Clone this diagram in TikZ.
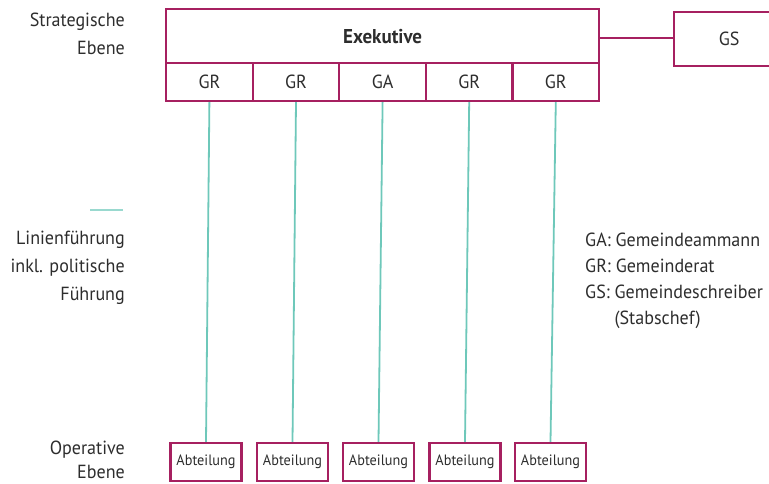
\documentclass[tikz,border=0pt]{standalone}
\usepackage{fontspec}
\setmainfont[FakeStretch=0.95]{PT Sans}
\begin{document}
\begin{tikzpicture}[x=1pt,y=-1pt,
  font=\fontsize{19}{27}\selectfont,
  frame/.style={draw=boxmag,line width=2.2pt},
  cellbox/.style={frame,minimum width=86.6pt,minimum height=38pt,inner sep=0pt,anchor=north west},
  deptbox/.style={frame,minimum width=71pt,minimum height=38pt,inner sep=0pt,font=\fontsize{15}{18}\selectfont},
  line/.style={draw=lineteal,line width=1.8pt},
  lbl/.style={align=right,anchor=east,text=textgray,inner sep=1pt}]
\definecolor{boxmag}{RGB}{166,32,96}
\definecolor{lineteal}{RGB}{110,200,186}
\definecolor{textgray}{RGB}{45,45,45}
\useasboundingbox (0,0) rectangle (769,484);
% executive block
\node[frame,minimum width=433pt,minimum height=54pt,inner sep=0pt,anchor=north west,
  font=\fontsize{20}{24}\selectfont\bfseries,text=textgray] (exe) at (165,8) {Exekutive};
\foreach \i/\t in {0/GR,1/GR,2/GA,3/GR,4/GR}{
  \node[cellbox,text=textgray] (c\i) at (165+86.6*\i,62) {\t};
}
% staff position
\node[frame,minimum width=110pt,minimum height=54pt,inner sep=0pt,anchor=north west,text=textgray] (gs) at (673,11) {GS};
\draw[draw=boxmag,line width=2.2pt] (exe.east |- 0,38) -- (gs.west |- 0,38);
% departments
\foreach \i/\x in {0/206,1/292.5,2/378.5,3/465,4/550.5}{
  \node[deptbox,text=textgray] (d\i) at (\x,462) {Abteilung};
  \draw[line] (c\i.south) -- (d\i.north);
}
% level labels
\node[lbl,font=\fontsize{19}{28}\selectfont] (l1) at (126,34) {Strategische\\Ebene};
\node[lbl,font=\fontsize{19}{28}\selectfont] (l2) at (126,268) {Linienführung\\inkl. politische\\Führung};
\node[lbl,font=\fontsize{19}{24}\selectfont] (l3) at (126,460) {Operative\\Ebene};
\coordinate (lg1) at (90,210);
\coordinate (lg2) at (123,210);
\draw[draw=lineteal!70,line width=1.5pt] (lg1) -- (lg2);
% legend
\node[anchor=north west,align=left,text=textgray,inner sep=0pt,font=\fontsize{19}{26}\selectfont] (leg) at (585,233)
  {GA: Gemeindeammann\\GR: Gemeinderat\\GS: Gemeindeschreiber\\\hphantom{GS: }(Stabschef)};
\end{tikzpicture}
\end{document}
